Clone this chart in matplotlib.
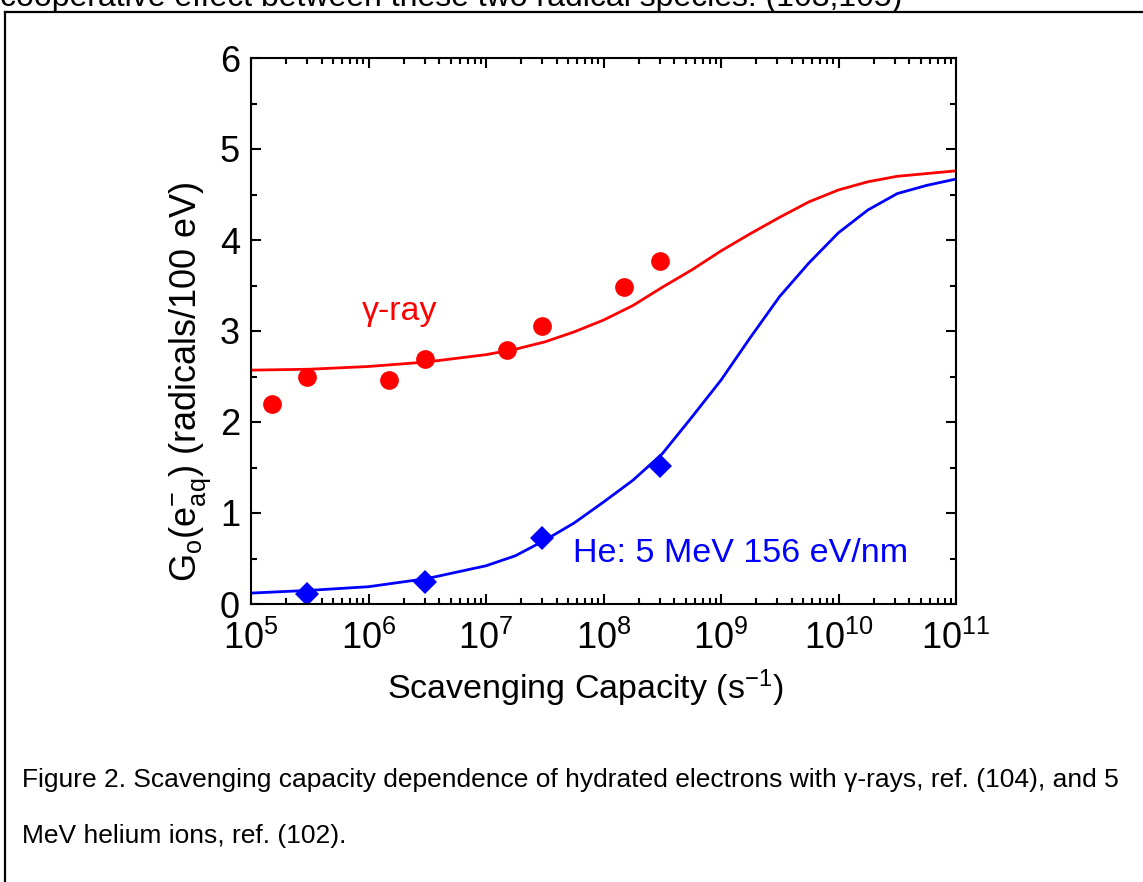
import matplotlib
matplotlib.use("Agg")
import matplotlib.pyplot as plt
from matplotlib.lines import Line2D
from matplotlib.ticker import LogLocator, MultipleLocator, LogFormatterSciNotation

# measured points
gamma_x = [1.5e5, 3e5, 1.5e6, 3e6, 1.5e7, 3e7, 1.5e8, 3e8]
gamma_y = [2.20, 2.49, 2.46, 2.69, 2.79, 3.06, 3.48, 3.77]
he_x = [3e5, 3e6, 3e7, 3e8]
he_y = [0.11, 0.245, 0.73, 1.52]

# fitted curves
fit_x = [1.0e5, 3.16e5, 1.0e6, 3.16e6, 1.0e7, 1.78e7, 3.16e7, 5.62e7, 1.0e8, 1.78e8,
         3.16e8, 5.62e8, 1.0e9, 1.78e9, 3.16e9, 5.62e9, 1.0e10, 1.78e10, 3.16e10,
         5.62e10, 1.0e11]
gamma_fit = [2.57, 2.58, 2.61, 2.66, 2.74, 2.80, 2.88, 2.99, 3.12, 3.28, 3.48, 3.67,
             3.88, 4.07, 4.25, 4.42, 4.55, 4.64, 4.70, 4.73, 4.76]
he_fit = [0.12, 0.15, 0.19, 0.28, 0.42, 0.53, 0.70, 0.89, 1.12, 1.36, 1.65, 2.05,
          2.46, 2.93, 3.38, 3.75, 4.08, 4.33, 4.51, 4.60, 4.67]

plt.rcParams.update({
    "font.family": ["Liberation Sans", "DejaVu Sans"],
    "mathtext.fontset": "custom",
    "mathtext.rm": "Liberation Sans",
    "mathtext.it": "Liberation Sans:italic",
    "mathtext.default": "regular",
})

W, H = 1143, 882
fig = plt.figure(figsize=(W / 100, H / 100), dpi=100)
ax = fig.add_axes([251 / W, 1 - 604 / H, (956 - 251) / W, (604 - 58) / H])

red, blue = "#FF0000", "#0000FF"
ax.plot(fit_x, gamma_fit, color=red, lw=2.0, solid_joinstyle="round")
ax.plot(fit_x, he_fit, color=blue, lw=2.0, solid_joinstyle="round")
ax.plot(gamma_x, gamma_y, "o", color=red, ms=13.5, mew=0)
ax.plot(he_x, he_y, "D", color=blue, ms=12.5, mew=0)

ax.set_xscale("log")
ax.set_xlim(1e5, 1e11)
ax.set_ylim(0, 6)
ax.xaxis.set_major_locator(LogLocator(base=10, numticks=20))
ax.xaxis.set_minor_locator(LogLocator(base=10, subs=range(2, 10), numticks=100))
ax.xaxis.set_major_formatter(LogFormatterSciNotation())
ax.yaxis.set_major_locator(MultipleLocator(1))
ax.yaxis.set_minor_locator(MultipleLocator(0.5))
ax.tick_params(which="both", direction="in", top=True, right=True, width=1.5)
ax.tick_params(which="major", length=7, labelsize=26)
ax.tick_params(axis="x", which="major", pad=12)
ax.tick_params(axis="y", which="major", pad=8)
ax.tick_params(which="minor", length=4)
for s in ax.spines.values():
    s.set_linewidth(1.5)

ax.set_xlabel(r"Scavenging Capacity (s$^{-1}$)", fontsize=24.5)
ax.xaxis.set_label_coords((585 - 251) / 705, (604 - 668) / 546)
ax.set_ylabel(r"G$_{\mathrm{o}}$(e$^{-}_{\mathrm{aq}}$) (radicals/100 eV)", fontsize=26, va="center")
ax.yaxis.set_label_coords((190 - 251) / 705, (604 - 382) / 546)

ax.text(8.8e5, 3.21, "\u03b3-ray", color=red, fontsize=24.5, ha="left", va="center")
ax.text(5.5e7, 0.56, "He: 5 MeV 156 eV/nm", color=blue, fontsize=24.5, ha="left", va="center")

# page frame and surrounding text
fig.add_artist(Line2D([5 / W, 5 / W], [0, 1 - 12 / H], color="black", lw=1.6))
fig.add_artist(Line2D([5 / W, 1], [1 - 12 / H, 1 - 12 / H], color="black", lw=1.6))
fig.text(0, 1 - 6 / H, "cooperative effect between these two radical species. (103,105)",
         fontsize=23, ha="left", va="baseline")
fig.text(22 / W, 1 - 780 / H,
         "Figure 2. Scavenging capacity dependence of hydrated electrons with \u03b3-rays, ref. (104), and 5",
         fontsize=19, ha="left", va="center")
fig.text(22 / W, 1 - 836 / H, "MeV helium ions, ref. (102).", fontsize=19, ha="left", va="center")

fig.savefig("out.png", dpi=100)
